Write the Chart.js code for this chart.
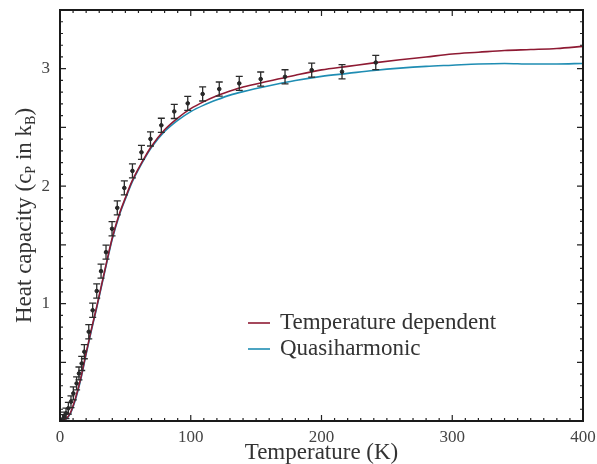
<!DOCTYPE html>
<html>
<head>
<meta charset="utf-8">
<script src="https://cdn.jsdelivr.net/npm/chart.js@4"></script>
<style>
  html, body { margin: 0; padding: 0; background: #fff; }
  #wrap { width: 597px; height: 464px; }
</style>
</head>
<body>
<div id="wrap"><canvas id="chart" width="597" height="464"></canvas></div>
<script>
// temperature grid for the two model curves (K)
const curveT = [0, 4, 8, 12, 16, 20, 24, 28, 32, 36, 40, 45, 50, 55, 60, 65, 70, 80, 90, 100,
  110, 120, 130, 140, 160, 180, 200, 220, 240, 260, 280, 300, 320, 340, 360, 380, 400];
const tempDependent = [0, 0.012, 0.07, 0.2, 0.37, 0.58, 0.78, 0.97, 1.17, 1.37, 1.56, 1.75, 1.9, 2.04, 2.15, 2.25, 2.34, 2.48, 2.58, 2.66,
  2.72, 2.77, 2.81, 2.845, 2.895, 2.945, 2.99, 3.02, 3.05, 3.076, 3.1, 3.125, 3.14, 3.155, 3.163, 3.172, 3.19];
const quasiHarmonic = [0, 0.01, 0.065, 0.19, 0.36, 0.57, 0.77, 0.96, 1.16, 1.36, 1.55, 1.74, 1.89, 2.03, 2.14, 2.24, 2.33, 2.465, 2.56, 2.635,
  2.69, 2.735, 2.775, 2.805, 2.855, 2.9, 2.935, 2.96, 2.985, 3.005, 3.02, 3.03, 3.04, 3.045, 3.04, 3.04, 3.045];

// measured points with error bars
const expT = [2, 3.3, 4.6, 6.4, 8.4, 10.2, 12.7, 14.5, 16.6, 18.6, 22, 25, 28.1, 31.4, 35.2, 39.8, 43.8, 49.2, 55.4,
  62.3, 69.2, 77.5, 87.4, 97.7, 109.1, 121.8, 137.1, 153.5, 172.1, 192.5, 215.7, 241.5];
const expCp = [0.015, 0.036, 0.065, 0.108, 0.164, 0.235, 0.32, 0.405, 0.49, 0.59, 0.76, 0.943, 1.107, 1.276, 1.438, 1.637, 1.815, 1.985, 2.13,
  2.288, 2.402, 2.518, 2.636, 2.705, 2.785, 2.827, 2.875, 2.912, 2.931, 2.988, 2.974, 3.053];
const expErr = [0.04, 0.04, 0.045, 0.05, 0.05, 0.055, 0.055, 0.055, 0.06, 0.06, 0.06, 0.06, 0.06, 0.06, 0.06, 0.06, 0.06, 0.06, 0.06,
  0.06, 0.06, 0.06, 0.06, 0.06, 0.06, 0.06, 0.06, 0.06, 0.06, 0.06, 0.06, 0.06];

const seriesNames = ['Temperature dependent', 'Quasiharmonic'];
const xTitle = 'Temperature (K)';
const xMax = 400, yMax = 3.5;

const RED = '#8e1a33';
const BLUE = '#1f8db3';
const SERIF = '"Liberation Serif", "DejaVu Serif", serif';

function pts(xs, ys) {
  return xs.map((x, i) => ({ x: x, y: ys[i] }));
}

// error bars, frame, inward ticks, titles and legend
const decor = {
  id: 'decor',
  afterDatasetsDraw(chart) {
    const ctx = chart.ctx;
    const xs = chart.scales.x, ys = chart.scales.y;
    const area = chart.chartArea;

    // error bars
    const meta = chart.getDatasetMeta(2);
    ctx.save();
    ctx.strokeStyle = '#2b2b2b';
    ctx.lineWidth = 1.3;
    meta.data.forEach((p, i) => {
      const top = ys.getPixelForValue(expCp[i] + expErr[i]);
      const bot = ys.getPixelForValue(Math.max(0, expCp[i] - expErr[i]));
      ctx.beginPath();
      ctx.moveTo(p.x, top); ctx.lineTo(p.x, bot);
      ctx.moveTo(p.x - 3.5, top); ctx.lineTo(p.x + 3.5, top);
      ctx.moveTo(p.x - 3.5, bot); ctx.lineTo(p.x + 3.5, bot);
      ctx.stroke();
    });
    ctx.restore();

    // ticks on all four sides, pointing in
    ctx.save();
    ctx.strokeStyle = '#222';
    ctx.lineWidth = 1.2;
    ctx.beginPath();
    for (let t = 0; t <= xMax; t += 10) {
      const px = xs.getPixelForValue(t);
      const len = (t % 100 === 0) ? 6 : 3;
      ctx.moveTo(px, area.bottom); ctx.lineTo(px, area.bottom - len);
      ctx.moveTo(px, area.top); ctx.lineTo(px, area.top + len);
    }
    for (let k = 0; k <= 35; k++) {
      const py = ys.getPixelForValue(k / 10);
      const len = (k % 5 === 0) ? 6 : 3;
      ctx.moveTo(area.left, py); ctx.lineTo(area.left + len, py);
      ctx.moveTo(area.right, py); ctx.lineTo(area.right - len, py);
    }
    ctx.stroke();
    // frame
    ctx.lineWidth = 2;
    ctx.strokeStyle = '#1a1a1a';
    ctx.strokeRect(area.left, area.top, area.right - area.left, area.bottom - area.top);
    ctx.restore();

    // x title
    ctx.save();
    ctx.fillStyle = '#333';
    ctx.font = '23px ' + SERIF;
    ctx.textAlign = 'center';
    ctx.textBaseline = 'alphabetic';
    ctx.fillText(xTitle, (area.left + area.right) / 2, 459);
    ctx.restore();

    // y title with subscripts
    const parts = [
      { t: 'Heat capacity (c', sub: false },
      { t: 'P', sub: true },
      { t: ' in k', sub: false },
      { t: 'B', sub: true },
      { t: ')', sub: false }
    ];
    const big = '23px ' + SERIF, small = '14px ' + SERIF;
    ctx.save();
    ctx.fillStyle = '#333';
    let total = 0;
    parts.forEach(p => { ctx.font = p.sub ? small : big; total += ctx.measureText(p.t).width; });
    ctx.translate(31, (area.top + area.bottom) / 2);
    ctx.rotate(-Math.PI / 2);
    ctx.textBaseline = 'alphabetic';
    ctx.textAlign = 'left';
    let cx = -total / 2;
    parts.forEach(p => {
      ctx.font = p.sub ? small : big;
      ctx.fillText(p.t, cx, p.sub ? 4 : 0);
      cx += ctx.measureText(p.t).width;
    });
    ctx.restore();

    // legend
    ctx.save();
    ctx.font = '23px ' + SERIF;
    ctx.fillStyle = '#333';
    ctx.textBaseline = 'middle';
    [RED, BLUE].forEach((c, i) => {
      const y = 323 + i * 26;
      ctx.strokeStyle = c;
      ctx.lineWidth = 1.6;
      ctx.beginPath();
      ctx.moveTo(248, y); ctx.lineTo(270, y);
      ctx.stroke();
      ctx.fillText(seriesNames[i], 280, y);
    });
    ctx.restore();
  }
};

new Chart(document.getElementById('chart'), {
  type: 'line',
  data: {
    datasets: [
      {
        label: seriesNames[0],
        data: pts(curveT, tempDependent),
        borderColor: RED,
        borderWidth: 1.6,
        pointRadius: 0,
        cubicInterpolationMode: 'monotone',
        fill: false,
        order: 2
      },
      {
        label: seriesNames[1],
        data: pts(curveT, quasiHarmonic),
        borderColor: BLUE,
        borderWidth: 1.6,
        pointRadius: 0,
        cubicInterpolationMode: 'monotone',
        fill: false,
        order: 3
      },
      {
        label: 'data',
        data: pts(expT, expCp),
        showLine: false,
        pointRadius: 1.8,
        pointBackgroundColor: '#222',
        pointBorderColor: '#222',
        order: 1
      }
    ]
  },
  options: {
    responsive: false,
    animation: false,
    devicePixelRatio: 1,
    layout: { padding: { top: 10, right: 14, left: 0, bottom: 0 } },
    plugins: {
      legend: { display: false },
      tooltip: { enabled: false }
    },
    scales: {
      x: {
        type: 'linear',
        min: 0,
        max: xMax,
        grid: { display: false, drawTicks: false },
        border: { display: false },
        ticks: {
          stepSize: 100,
          padding: 6,
          color: '#444',
          font: { family: SERIF, size: 17 },
          maxRotation: 0
        },
        afterFit(scale) {
          scale.height = 43;
          scale.paddingLeft = 0;
          scale.paddingRight = 0;
        }
      },
      y: {
        type: 'linear',
        min: 0,
        max: yMax,
        grid: { display: false, drawTicks: false },
        border: { display: false },
        ticks: {
          stepSize: 1,
          padding: 10,
          color: '#444',
          font: { family: SERIF, size: 17 },
          callback: v => (v > 0 && Number.isInteger(v)) ? String(v) : ''
        },
        afterFit(scale) {
          scale.width = 60;
          scale.paddingTop = 0;
          scale.paddingBottom = 0;
        }
      }
    }
  },
  plugins: [decor]
});
</script>
</body>
</html>
